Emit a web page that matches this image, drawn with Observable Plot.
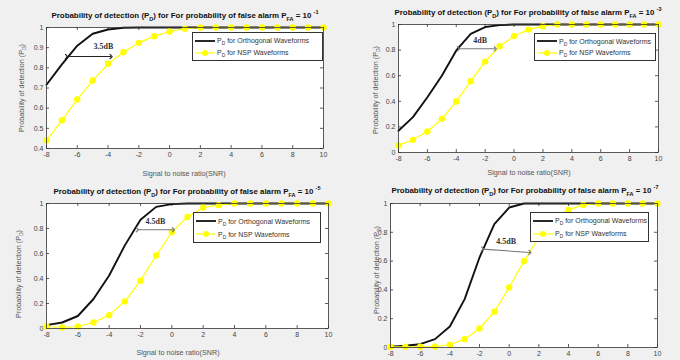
<!DOCTYPE html>
<html>
<head>
<meta charset="utf-8">
<script src="https://cdn.jsdelivr.net/npm/d3@7"></script>
<script src="https://cdn.jsdelivr.net/npm/@observablehq/plot@0.6"></script>
<style>
  body { margin: 0; background: #f0f0f0; }
  #fig { position: relative; width: 680px; height: 360px; background: #f0f0f0; overflow: hidden; font-family: "Liberation Sans", Arial, sans-serif; }
  .abs { position: absolute; }
  .title { font-weight: bold; font-size: 7.9px; color: #111; white-space: nowrap; transform: translateX(-50%); }
  .ylab { font-size: 7.2px; color: #555; white-space: nowrap; transform: translate(-50%, -50%) rotate(-90deg); }
  .xlab { font-size: 7.2px; color: #555; white-space: nowrap; transform: translateX(-50%); }
  .legend { background: #fff; border: 1px solid #333; box-sizing: border-box; font-size: 7px; color: #333; }
  .legrow { position: absolute; left: 2px; display: flex; align-items: center; white-space: nowrap; }
  sub, sup { font-size: 70%; line-height: 0; }
</style>
</head>
<body>
<div id="fig"></div>
<script>
// ---- data ----
const snr = [-8, -7, -6, -5, -4, -3, -2, -1, 0, 1, 2, 3, 4, 5, 6, 7, 8, 9, 10];
const xTicks = [-8, -6, -4, -2, 0, 2, 4, 6, 8, 10];

const exponents = ["-1", "-3", "-5", "-7"];

const orth1 = [0.716, 0.817, 0.910, 0.969, 0.990, 0.999, 1, 1, 1, 1, 1, 1, 1, 1, 1, 1, 1, 1, 1];
const nsp1  = [0.440, 0.540, 0.643, 0.737, 0.820, 0.877, 0.924, 0.957, 0.980, 0.994, 1, 1, 1, 1, 1, 1, 1, 1, 1];

const orth2 = [0.170, 0.276, 0.432, 0.600, 0.797, 0.927, 0.980, 0.995, 1, 1, 1, 1, 1, 1, 1, 1, 1, 1, 1];
const nsp2  = [0.055, 0.099, 0.164, 0.263, 0.398, 0.557, 0.710, 0.830, 0.910, 0.960, 0.987, 1, 1, 1, 1, 1, 1, 1, 1];

const orth3 = [0.027, 0.048, 0.100, 0.236, 0.424, 0.665, 0.870, 0.973, 0.995, 1, 1, 1, 1, 1, 1, 1, 1, 1, 1];
const nsp3  = [0.016, 0.008, 0.016, 0.048, 0.107, 0.217, 0.383, 0.584, 0.770, 0.893, 0.968, 0.987, 1, 1, 1, 1, 1, 1, 1];

const orth4 = [0.005, 0.012, 0.023, 0.058, 0.146, 0.336, 0.625, 0.856, 0.972, 1, 1, 1, 1, 1, 1, 1, 1, 1, 1];
const nsp4  = [0.005, 0.005, 0.005, 0.007, 0.019, 0.058, 0.132, 0.248, 0.417, 0.600, 0.764, 0.900, 0.956, 0.990, 1, 1, 1, 1, 1];

const yTicks1 = [0.4, 0.5, 0.6, 0.7, 0.8, 0.9, 1];
const yTicks2 = [0, 0.2, 0.4, 0.6, 0.8, 1];

// annotation arrows: [x1, y1, x2, y2, textX, textY]
const arrowLabels = ["3.5dB", "4dB", "4.5dB", "4.5dB"];
const arrow1 = [-6.7, 0.856, -3.8, 0.856, -4.3, 0.905];
const arrow2 = [-3.85, 0.81, -1.3, 0.81, -2.35, 0.875];
const arrow3 = [-2.2, 0.79, 0.1, 0.79, -1.05, 0.855];
const arrow4 = [-1.8, 0.683, 1.4, 0.66, -0.2, 0.735];

// ---- layout ----
const panels = [
  {left: 0,   top: 0,   mL: 46, mR: 17, mT: 27, mB: 32, yDom: [0.4, 1], yTicks: yTicks1, orth: orth1, nsp: nsp1, arr: arrow1, lab: arrowLabels[0], exp: exponents[0], arrowColor: "#222",
   title: [185, 11], ylab: [21, 88], xlab: [184, 169], legend: [192, 32, 131, 29]},
  {left: 340, top: 0,   mL: 58, mR: 22, mT: 24, mB: 28, yDom: [0, 1], yTicks: yTicks2, orth: orth2, nsp: nsp2, arr: arrow2, lab: arrowLabels[1], exp: exponents[1], arrowColor: "#777",
   title: [528, 8], ylab: [375, 90], xlab: [529, 168], legend: [534, 33, 122, 28]},
  {left: 0,   top: 180, mL: 46, mR: 12, mT: 23, mB: 32, yDom: [0, 1], yTicks: yTicks2, orth: orth3, nsp: nsp3, arr: arrow3, lab: arrowLabels[2], exp: exponents[2], arrowColor: "#777",
   title: [187, 187], ylab: [18, 274], xlab: [178, 348], legend: [193, 212, 128, 31]},
  {left: 340, top: 180, mL: 50, mR: 23, mT: 23, mB: 13, yDom: [0, 1], yTicks: yTicks2, orth: orth4, nsp: nsp4, arr: arrow4, lab: arrowLabels[3], exp: exponents[3], arrowColor: "#777",
   title: [525, 186], ylab: [376, 270], xlab: null, legend: [530, 212, 119, 30]}
];

const fig = document.getElementById("fig");
const W = 340, H = 180;
const fmt = d => `${d}`;

function legendSwatch(kind) {
  return kind === "orth"
    ? `<svg width="20" height="8"><line x1="0" y1="4" x2="20" y2="4" stroke="#111" stroke-width="1.8"/></svg>`
    : `<svg width="20" height="8"><line x1="0" y1="4" x2="20" y2="4" stroke="#ffff00" stroke-width="1.2"/><circle cx="10" cy="4" r="3" fill="#ffff00"/></svg>`;
}

panels.forEach(p => {
  const rows = snr.map((x, i) => ({snr: x, orth: p.orth[i], nsp: p.nsp[i]}));
  const pw = W - p.mL - p.mR, ph = H - p.mT - p.mB;
  const a = p.arr;
  const ann = [{x1: a[0], y1: a[1], x2: a[2], y2: a[3], tx: a[4], ty: a[5], label: p.lab}];
  const chart = Plot.plot({
    width: W, height: H,
    marginLeft: p.mL, marginRight: p.mR, marginTop: p.mT, marginBottom: p.mB,
    x: {domain: [-8, 10]},
    y: {domain: p.yDom},
    style: {background: "transparent", fontFamily: "'Liberation Sans', Arial, sans-serif", fontSize: "7px", color: "#444"},
    marks: [
      Plot.frame({fill: "white", stroke: "none"}),
      Plot.axisX({ticks: xTicks, tickSize: 0, tickPadding: 4, label: null, fill: "#444", tickFormat: fmt}),
      Plot.axisY({ticks: p.yTicks, tickSize: 0, tickPadding: 3, label: null, fill: "#444", tickFormat: fmt}),
      Plot.ruleX(xTicks, {insetTop: ph - 3, stroke: "#333", strokeWidth: 0.8}),
      Plot.ruleX(xTicks, {insetBottom: ph - 3, stroke: "#333", strokeWidth: 0.8}),
      Plot.ruleY(p.yTicks, {insetRight: pw - 3, stroke: "#333", strokeWidth: 0.8}),
      Plot.ruleY(p.yTicks, {insetLeft: pw - 3, stroke: "#333", strokeWidth: 0.8}),
      Plot.line(rows, {x: "snr", y: "orth", stroke: "#111", strokeWidth: 1.9}),
      Plot.line(rows, {x: "snr", y: "nsp", stroke: "#ffff00", strokeWidth: 1.2}),
      Plot.dot(rows, {x: "snr", y: "nsp", r: 3.2, fill: "#ffff00", stroke: "none"}),
      Plot.link(ann, {x1: "x1", y1: "y1", x2: "x2", y2: "y2", stroke: p.arrowColor, strokeWidth: 1.1, markerStart: "arrow", markerEnd: "arrow"}),
      Plot.text(ann, {x: "tx", y: "ty", text: "label", fontFamily: "'Liberation Serif', 'DejaVu Serif', serif", fontWeight: "bold", fontSize: 8, fill: "#333"}),
      Plot.frame({stroke: "#333", strokeWidth: 0.8})
    ]
  });
  chart.style.position = "absolute";
  chart.style.left = p.left + "px";
  chart.style.top = p.top + "px";
  fig.appendChild(chart);

  const t = document.createElement("div");
  t.className = "abs title";
  t.style.left = p.title[0] + "px";
  t.style.top = p.title[1] + "px";
  t.innerHTML = `Probability of detection (P<sub>D</sub>) for For probability of false alarm P<sub>FA</sub> = 10 <sup>${p.exp}</sup>`;
  fig.appendChild(t);

  const yl = document.createElement("div");
  yl.className = "abs ylab";
  yl.style.left = p.ylab[0] + "px";
  yl.style.top = p.ylab[1] + "px";
  yl.innerHTML = `Probability of detection (P<sub>D</sub>)`;
  fig.appendChild(yl);

  if (p.xlab) {
    const xl = document.createElement("div");
    xl.className = "abs xlab";
    xl.style.left = p.xlab[0] + "px";
    xl.style.top = p.xlab[1] + "px";
    xl.textContent = "Signal to noise ratio(SNR)";
    fig.appendChild(xl);
  }

  const lg = document.createElement("div");
  lg.className = "abs legend";
  const [lx, ly, lw, lh] = p.legend;
  lg.style.left = lx + "px"; lg.style.top = ly + "px";
  lg.style.width = lw + "px"; lg.style.height = lh + "px";
  lg.innerHTML =
    `<div class="legrow" style="top:${lh * 0.3 - 5}px">${legendSwatch("orth")}<span style="margin-left:2px">P<sub>D</sub> for Orthogonal Waveforms</span></div>` +
    `<div class="legrow" style="top:${lh * 0.72 - 5}px">${legendSwatch("nsp")}<span style="margin-left:2px">P<sub>D</sub> for NSP Waveforms</span></div>`;
  fig.appendChild(lg);
});
</script>
</body>
</html>
